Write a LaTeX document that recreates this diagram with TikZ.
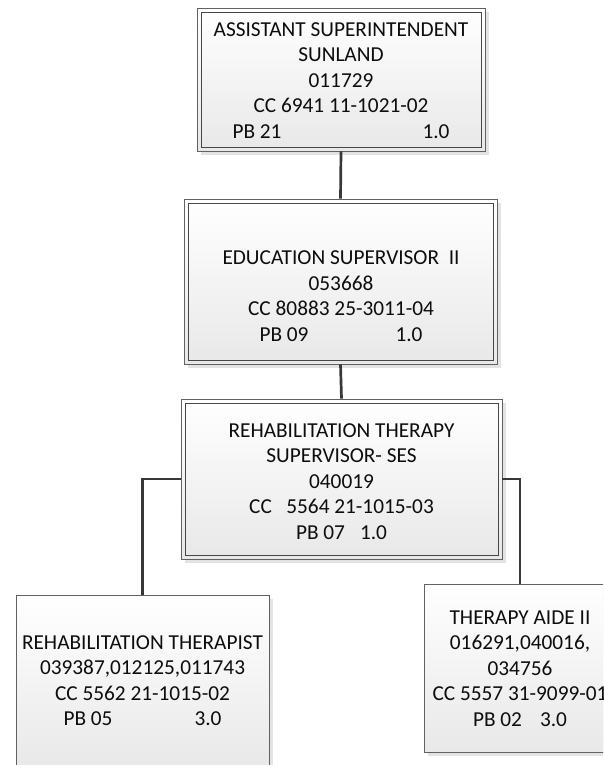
\documentclass[tikz,border=0pt]{standalone}
\usepackage{fontspec}
\setmainfont{Carlito}
\usetikzlibrary{shadows}
\begin{document}
\begin{tikzpicture}[x=1pt,y=-1pt,
  orgbox/.style={draw=black!62, line width=0.8pt, shading=axis, top color=white, bottom color=black!9,
    inner sep=0pt, drop shadow={shadow xshift=4pt, shadow yshift=-4pt, fill=black!11, opacity=1}},
  innerframe/.style={draw=black!72, line width=0.8pt},
  txt/.style={align=center, inner sep=0pt, text=black!95, font=\fontsize{21.3}{25.5}\selectfont},
  link/.style={draw=black!78, line width=2.7pt}]
\useasboundingbox (0,0) rectangle (603,765);
\clip (0,0) rectangle (603,765);
% boxes
\node[orgbox, minimum width=288pt, minimum height=143pt] (b1) at (341,79.5) {};
\node[orgbox, minimum width=313pt, minimum height=165pt] (b2) at (340.5,281.5) {};
\node[orgbox, minimum width=321pt, minimum height=160pt] (b3) at (341.5,479) {};
\node[orgbox, minimum width=253pt, minimum height=175pt] (b4) at (142.5,682.5) {};
\node[orgbox, minimum width=192pt, minimum height=168pt] (b5) at (520,668) {};
% inner frames of the double-framed boxes
\draw[innerframe] ([shift={(4.5,4.5)}]b1.north west) rectangle ([shift={(-4.5,-4.5)}]b1.south east);
\draw[innerframe] ([shift={(4.5,4.5)}]b2.north west) rectangle ([shift={(-4.5,-4.5)}]b2.south east);
\draw[innerframe] ([shift={(4.5,4.5)}]b3.north west) rectangle ([shift={(-4.5,-4.5)}]b3.south east);
% connectors
\draw[link] (b1.south) -- (b2.north);
\draw[link] (b2.south) -- (b3.north);
\draw[link] (b3.west) -| (b4.north);
\draw[link] (b3.east) -| (b5.north);
% texts
\node[txt] (t1) at (341,80.2) {ASSISTANT SUPERINTENDENT\\SUNLAND\\011729\\CC 6941 11-1021-02\\\makebox[217pt]{PB 21\hfill 1.0}};
\node[txt] (t2) at (341,296.4) {EDUCATION SUPERVISOR\ \ II\\053668\\CC 80883 25-3011-04\\\makebox[163pt]{PB 09\hfill 1.0}};
\node[txt] (t3) at (341.5,481.3) {REHABILITATION THERAPY\\SUPERVISOR- SES\\040019\\CC\ \ \ 5564 21-1015-03\\\makebox[91pt]{PB 07\hfill 1.0}};
\node[txt] (t4) at (142.5,680.5) {REHABILITATION THERAPIST\\039387,012125,011743\\CC 5562 21-1015-02\\\makebox[158pt]{PB 05\hfill 3.0}};
\node[txt] (t5) at (520,668.5) {THERAPY AIDE II\\016291,040016,\\034756\\CC 5557 31-9099-01\\\makebox[94pt]{PB 02\hfill 3.0}};
\end{tikzpicture}
\end{document}
